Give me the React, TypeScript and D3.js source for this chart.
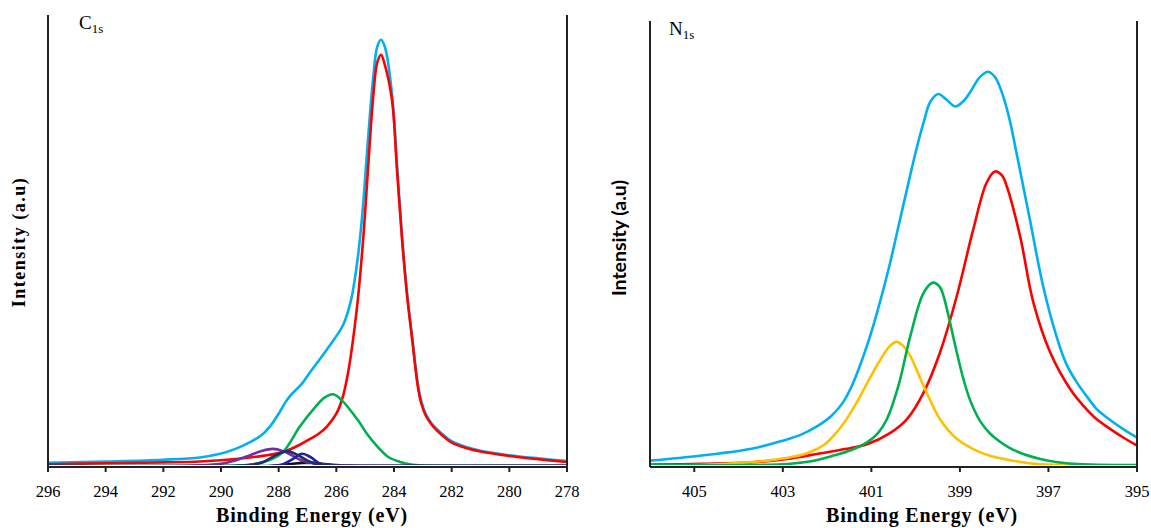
import React from "react";
import * as d3 from "d3";

// ---------- C1s panel data (binding energy eV, intensity a.u. 0-100) ----------
const c1sTicks = [296, 294, 292, 290, 288, 286, 284, 282, 280, 278];
const c1sEnvelope: [number, number][] = [
  [296, 0.7], [294, 1.0], [292, 1.4], [290.73, 1.9], [290.03, 2.7], [289.5, 3.8], [288.99, 5.3],
  [288.6, 6.8], [288.3, 8.8], [288.0, 11.6], [287.78, 14.0], [287.61, 15.5], [287.2, 18.2],
  [286.91, 20.8], [286.32, 25.9], [285.77, 31.2], [285.5, 36.5], [285.28, 45.0], [285.11, 55.0],
  [284.9, 72.5], [284.73, 85.5], [284.58, 93.0], [284.45, 94.5], [284.31, 92.8], [284.07, 82.5],
  [283.9, 67.2], [283.72, 50.8], [283.55, 38.5], [283.37, 28.6], [283.17, 18.0], [283.05, 14.3],
  [282.9, 11.6], [282.7, 9.5], [282.5, 8.1], [282.2, 6.4], [282, 5.5], [281.5, 4.2], [281, 3.4],
  [280, 2.4], [279, 1.7], [278, 1.1],
];
const c1sCC: [number, number][] = [
  [296, 0.4], [294, 0.6], [292, 0.8], [290.73, 1.0], [289.58, 1.5], [288.5, 2.3], [287.85, 3.1],
  [287.3, 4.6], [286.91, 6.0], [286.6, 7.2], [286.32, 8.8], [286.0, 11.6], [285.8, 14.8],
  [285.59, 20.8], [285.28, 35.4], [285.07, 50.2], [284.9, 66], [284.73, 81.2], [284.58, 89.5],
  [284.45, 91.2], [284.32, 89], [284.07, 81.2], [283.9, 66], [283.72, 50.2], [283.55, 38.0],
  [283.37, 28.1], [283.17, 17.5], [283.05, 13.8], [282.9, 11.2], [282.7, 9.2], [282.5, 7.8],
  [282.2, 6.1], [282, 5.2], [281.5, 4.0], [281, 3.2], [280, 2.2], [279, 1.5], [278, 0.9],
];
const c1sCO: [number, number][] = [
  [296, 0], [290, 0], [289.5, 0.1], [288.9, 0.4], [288.4, 1.1], [287.85, 3.1], [287.26, 8.8],
  [286.74, 13], [286.4, 15.2], [286.11, 15.9], [285.8, 14.5], [285.28, 10.4], [284.9, 6.8],
  [284.59, 4.4], [284.2, 2.0], [283.79, 0.9], [283.4, 0.3], [283.0, 0.1], [282, 0], [278, 0],
];
const c1sOCO: [number, number][] = [
  [296, 0], [291, 0.1], [290, 0.5], [289.58, 1.1], [288.99, 2.4], [288.6, 3.3], [288.2, 3.8],
  [287.85, 3.3], [287.5, 2.2], [287.26, 1.4], [286.9, 0.8], [286.5, 0.4], [286.22, 0.2],
  [285, 0], [278, 0],
];
const c1sCO2: [number, number][] = [
  [296, 0], [289.5, 0], [289, 0.2], [288.54, 0.9], [288.1, 2.4], [287.71, 3.3], [287.4, 2.6],
  [287.0, 1.2], [286.74, 0.5], [286.3, 0.1], [285.5, 0], [278, 0],
];
const c1sCN: [number, number][] = [
  [296, 0], [288.3, 0], [287.85, 0.4], [287.5, 1.6], [287.19, 2.7], [286.9, 2.0], [286.57, 0.5],
  [286.2, 0.1], [285.5, 0], [278, 0],
];
const c1sSmall: [number, number][] = [
  [296, 0], [288.2, 0], [287.5, 0.5], [287.0, 0.8], [286.5, 0.5], [285.8, 0.1], [285, 0], [278, 0],
];
const c1sBaseline: [number, number][] = [[296, 0], [278, 0]];

// ---------- N1s panel data ----------
const n1sTicks = [405, 403, 401, 399, 397, 395];
const n1sEnvelope: [number, number][] = [
  [406, 1.2], [404.87, 2.3], [403.74, 3.8], [403.0, 5.7], [402.6, 7.0], [402.23, 8.9],
  [401.9, 11.3], [401.64, 14.3], [401.45, 17.8], [401.26, 22.5], [401.05, 28.5], [400.87, 34.5],
  [400.58, 45.5], [400.35, 55.5], [400.2, 62.0], [400.0, 70.5], [399.82, 77.2], [399.67, 81.8],
  [399.49, 83.6], [399.3, 82.3], [399.1, 80.8], [398.9, 82.2], [398.77, 84.0], [398.55, 87.4],
  [398.36, 88.6], [398.2, 87.3], [398.02, 83.0], [397.87, 77.5], [397.72, 70.3], [397.42, 55.4],
  [397.12, 40.4], [396.82, 29.2], [396.6, 23.0], [396.36, 18.8], [396.1, 15.2], [395.91, 12.8],
  [395.6, 10.3], [395.31, 8.3], [395, 6.4],
];
const n1sPyridinic: [number, number][] = [
  [406, 0.3], [404.8, 0.5], [403.74, 0.8], [402.9, 1.6], [402.23, 2.7], [401.6, 3.8], [401.1, 4.9],
  [400.58, 7.4], [400.2, 10.5], [399.82, 16.5], [399.45, 25.5], [399.07, 38.2], [398.7, 53.1],
  [398.4, 63.6], [398.21, 66.2], [398.05, 65.3], [397.94, 62.8], [397.64, 51.6], [397.34, 36.7],
  [396.96, 25.5], [396.51, 17.3], [396.2, 13.4], [395.91, 10.5], [395.6, 8.3], [395.31, 6.4],
  [395, 4.6],
];
const n1sPyrrolic: [number, number][] = [
  [406, 0.2], [403, 0.4], [402.4, 1.0], [401.87, 2.3], [401.45, 3.6], [401.1, 5.3], [400.85, 7.4],
  [400.65, 10.5], [400.39, 18], [400.12, 29.2], [399.82, 38.9], [399.61, 41.2], [399.45, 40.2],
  [399.37, 38.2], [399.07, 25.5], [398.92, 19.5], [398.77, 14.8], [398.55, 10.2], [398.32, 7.3],
  [398.1, 5.5], [397.9, 4.2], [397.57, 2.7], [397.0, 1.2], [396.44, 0.5], [395, 0.2],
];
const n1sGraphitic: [number, number][] = [
  [406, 0.1], [404.5, 0.4], [403.36, 1.2], [402.8, 2.0], [402.39, 3.1], [402.05, 4.9],
  [401.79, 7.5], [401.55, 10.7], [401.33, 14.3], [400.88, 22.5], [400.58, 27], [400.43, 27.9],
  [400.28, 27.0], [400.12, 24.7], [399.82, 18], [399.45, 10.5], [399.07, 6.1], [398.7, 3.8],
  [398.32, 2.3], [397.7, 1.0], [397.19, 0.4], [395, 0.1],
];

const SERIF = "'Liberation Serif', 'Times New Roman', serif";

type Series = { data: [number, number][]; color: string };

function Panel(props: {
  id: string;
  domain: [number, number];
  x0: number; x1: number; yTop: number; yBottom: number;
  ticks: number[];
  series: Series[];
  titleMain: string;
  titleX: number; titleY: number;
  yLabelX: number; yLabelY: number; yLabelFont: string; yLabelSize: number; yLabelSpacing: number;
  xLabelX: number;
}) {
  const p = props;
  const x = d3.scaleLinear().domain(p.domain).range([p.x0, p.x1]);
  const y = d3.scaleLinear().domain([0, 100]).range([p.yBottom, p.yTop]);
  const line = d3
    .line<[number, number]>()
    .x((d) => x(d[0]))
    .y((d) => y(d[1]))
    .curve(d3.curveCatmullRom.alpha(0.5));
  return (
    <g>
      <defs>
        <clipPath id={p.id}>
          <rect x={p.x0} y={p.yTop - 5} width={p.x1 - p.x0} height={p.yBottom - p.yTop + 4} />
        </clipPath>
      </defs>
      <g clipPath={`url(#${p.id})`}>
        {p.series.map((s, i) => (
          <path key={i} d={line(s.data) || ""} fill="none" stroke={s.color} strokeWidth={2.6} strokeLinejoin="round" />
        ))}
      </g>
      {/* axes */}
      <line x1={p.x0} x2={p.x0} y1={p.yTop} y2={p.yBottom + 1} stroke="#222" strokeWidth={2} />
      <line x1={p.x1} x2={p.x1} y1={p.yTop} y2={p.yBottom + 1} stroke="#222" strokeWidth={2} />
      <line x1={p.x0} x2={p.x1} y1={p.yBottom + 1} y2={p.yBottom + 1} stroke="#222" strokeWidth={2} />
      {p.ticks.map((t) => (
        <g key={t}>
          <line x1={x(t)} x2={x(t)} y1={p.yBottom + 1} y2={p.yBottom + 6} stroke="#222" strokeWidth={2} />
          <text x={x(t)} y={497} textAnchor="middle" fontFamily={SERIF} fontSize={16.5} fill="#000">
            {t}
          </text>
        </g>
      ))}
      <text x={p.xLabelX} y={522} textAnchor="middle" fontFamily={SERIF} fontWeight="bold" fontSize={20} letterSpacing={0.8} fill="#000">
        Binding Energy (eV)
      </text>
      <text
        transform={`translate(${p.yLabelX},${p.yLabelY}) rotate(-90)`}
        textAnchor="middle"
        fontFamily={p.yLabelFont}
        fontWeight="bold"
        fontSize={p.yLabelSize}
        letterSpacing={p.yLabelSpacing}
        fill="#000"
      >
        Intensity (a.u)
      </text>
      <text x={p.titleX} y={p.titleY} fontFamily={SERIF} fontSize={19} fill="#000">
        {p.titleMain}
        <tspan fontSize={13} dy={3.5}>1s</tspan>
      </text>
    </g>
  );
}

export default function App() {
  const c1sSeries: Series[] = [
    { data: c1sEnvelope, color: "#00B0F0" },
    { data: c1sCC, color: "#FF0000" },
    { data: c1sCO, color: "#00B050" },
    { data: c1sSmall, color: "#111111" },
    { data: c1sOCO, color: "#7030A0" },
    { data: c1sCN, color: "#2020A0" },
    { data: c1sCO2, color: "#1F2D6B" },
    { data: c1sBaseline, color: "#1F2D6B" },
  ];
  const n1sSeries: Series[] = [
    { data: n1sEnvelope, color: "#00B0F0" },
    { data: n1sPyridinic, color: "#FF0000" },
    { data: n1sGraphitic, color: "#FFC000" },
    { data: n1sPyrrolic, color: "#00B050" },
  ];
  return (
    <svg width={1151} height={528} style={{ position: "absolute", left: 0, top: 0, background: "#fff" }}>
      <rect width={1151} height={528} fill="#fff" />
      <Panel
        id="clipC"
        domain={[296, 278]}
        x0={48} x1={567} yTop={15} yBottom={466}
        ticks={c1sTicks}
        series={c1sSeries}
        titleMain="C" titleX={79} titleY={29}
        yLabelX={25} yLabelY={242} yLabelFont={SERIF} yLabelSize={18} yLabelSpacing={1.5}
        xLabelX={312}
      />
      <Panel
        id="clipN"
        domain={[406, 395]}
        x0={650} x1={1137} yTop={21} yBottom={466}
        ticks={n1sTicks}
        series={n1sSeries}
        titleMain="N" titleX={669} titleY={35}
        yLabelX={626} yLabelY={238} yLabelFont="Lato, 'Open Sans', sans-serif" yLabelSize={19.5} yLabelSpacing={0}
        xLabelX={922}
      />
    </svg>
  );
}
